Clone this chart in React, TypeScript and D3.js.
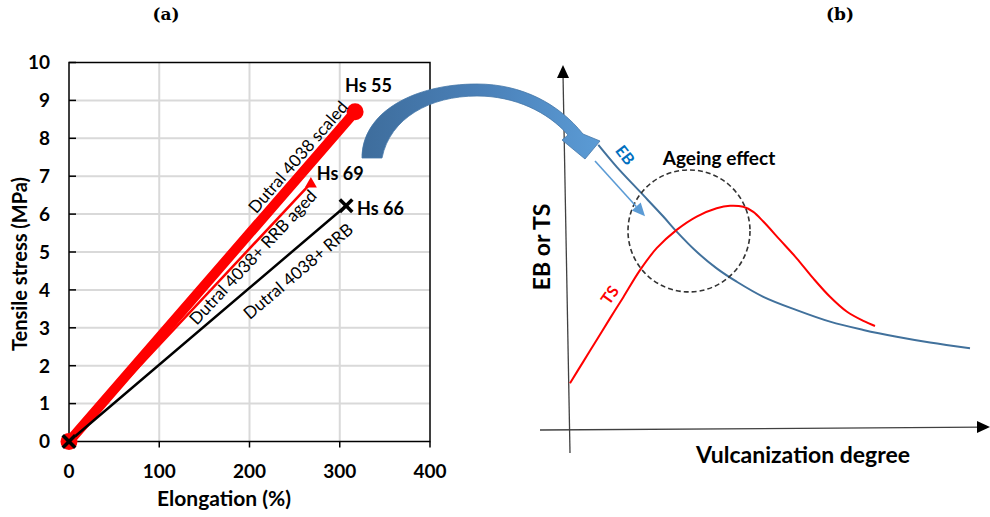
import React from "react";
import * as d3 from "d3";

// ---- (a) tensile curves: elongation (%) vs tensile stress (MPa)
const seriesNames = ["Dutral 4038 scaled", "Dutral 4038+ RRB aged", "Dutral 4038+ RRB"];
const elongScaled = [0, 317];
const stressScaled = [0, 8.7];
const elongAged = [0, 268];
const stressAged = [0, 6.82];
const elongRRB = [0, 307];
const stressRRB = [0, 6.22];
const hardnessLabels = ["Hs 55", "Hs 69", "Hs 66"];
const xTicks = [0, 100, 200, 300, 400];
const yTicks = [0, 1, 2, 3, 4, 5, 6, 7, 8, 9, 10];

// ---- (b) schematic: property vs vulcanization degree (arbitrary units 0–100)
const vulcDegreeEB = [7.08, 11.67, 17.5, 23.33, 26.67, 31.67, 36.67, 41.67, 48.33, 56.67, 65, 73.33, 81.67, 90, 100];
const ebValues = [79.2, 73.1, 66.2, 59.3, 55.1, 49.5, 44.9, 41.2, 37.0, 33.3, 30.1, 27.8, 25.9, 24.3, 22.7];
const vulcDegreeTS = [0, 3.33, 6.67, 10, 13.33, 17.5, 21.67, 26.67, 31.67, 36.67, 40, 43.33, 45.83, 48.33, 52.5, 56.67, 60.83, 65, 69.17, 73.33, 76.25];
const tsValues = [13.0, 19.0, 25.0, 31.0, 36.9, 44.4, 50.5, 55.6, 59.3, 61.6, 62.3, 62.0, 60.6, 57.9, 52.8, 47.7, 42.1, 37.0, 32.9, 30.3, 28.9];
const ageingCenter = [29.75, 55.3];
const ageingRadius = 15.25;

const FONT = "Lato, 'Open Sans', sans-serif";

export default function App() {
  const W = 990;
  const H = 517;

  // panel (a) scales
  const x = d3.scaleLinear().domain([0, 400]).range([69, 430]);
  const y = d3.scaleLinear().domain([0, 10]).range([441.5, 62.5]);

  // panel (b) scales
  const bx = d3.scaleLinear().domain([0, 100]).range([570, 970]);
  const by = d3.scaleLinear().domain([0, 100]).range([430, 70]);

  const lineA = d3
    .line<[number, number]>()
    .x((d) => x(d[0]))
    .y((d) => y(d[1]));

  const series = [
    { name: seriesNames[0], xs: elongScaled, ys: stressScaled, color: "#FF0000", width: 10, label: hardnessLabels[0], ldx: -10, ldy: -20, t: 0.836, off: 13.4 },
    { name: seriesNames[1], xs: elongAged, ys: stressAged, color: "#FF0000", width: 2.5, label: hardnessLabels[1], ldx: 6, ldy: -3, t: 0.735, off: -8.5 },
    { name: seriesNames[2], xs: elongRRB, ys: stressRRB, color: "#000000", width: 2.5, label: hardnessLabels[2], ldx: 11, ldy: 9, t: 0.783, off: -19 },
  ].map((s) => ({ ...s, pts: s.xs.map((v, i) => [v, s.ys[i]] as [number, number]) }));

  const curveB = (xs: number[], ys: number[]) =>
    d3
      .line<number>()
      .x((_, i) => bx(xs[i]))
      .y((d) => by(d))
      .curve(d3.curveCatmullRom.alpha(0.5))(ys) as string;

  const marker = (idx: number, px: number, py: number, key: string) => {
    if (idx === 0) return <circle key={key} cx={px} cy={py} r={8.5} fill="#FF0000" />;
    if (idx === 1)
      return (
        <path
          key={key}
          d={`M${px},${py - 6}L${px + 6},${py + 4.5}L${px - 6},${py + 4.5}Z`}
          fill="#FF0000"
        />
      );
    const s = 5;
    return (
      <g key={key} stroke="#000" strokeWidth={3.5} strokeLinecap="square">
        <line x1={px - s} y1={py - s} x2={px + s} y2={py + s} />
        <line x1={px - s} y1={py + s} x2={px + s} y2={py - s} />
      </g>
    );
  };

  // small arrow in schematic
  const sa0 = [bx(6.25), by(74.7)];
  const sa1 = [bx(18.75), by(59.4)];
  const ang = Math.atan2(sa1[1] - sa0[1], sa1[0] - sa0[0]);
  const ahL = 13;
  const ahW = 6;
  const ahBase = [sa1[0] - ahL * Math.cos(ang), sa1[1] - ahL * Math.sin(ang)];
  const ahP1 = [ahBase[0] + ahW * Math.sin(ang), ahBase[1] - ahW * Math.cos(ang)];
  const ahP2 = [ahBase[0] - ahW * Math.sin(ang), ahBase[1] + ahW * Math.cos(ang)];

  // curved connector arrow from panel (a) to the EB curve
  const bigArrow =
    "M362,158 C362,112 414,84 477,84 C522,84 559,104 583,134 L600,141 L585,159 L562,140 L568,135 C548,112 515,96 477,96 C430,96 390,118 382,158 Z";

  return (
    <svg
      width={W}
      height={H}
      viewBox={`0 0 ${W} ${H}`}
      style={{ position: "absolute", left: 0, top: 0, background: "#fff" }}
      fontFamily={FONT}
    >
      <defs>
        <linearGradient id="arrowGrad" x1="0" x2="1" y1="0" y2="0">
          <stop offset="0" stopColor="#3E6D9C" />
          <stop offset="0.5" stopColor="#4A80B8" />
          <stop offset="1" stopColor="#5B9BD5" />
        </linearGradient>
      </defs>

      {/* panel titles */}
      <text x={166} y={20} textAnchor="middle" fontFamily="'DejaVu Serif', 'Liberation Serif', serif" fontWeight="bold" fontSize={17}>
        (a)
      </text>
      <text x={840} y={20} textAnchor="middle" fontFamily="'DejaVu Serif', 'Liberation Serif', serif" fontWeight="bold" fontSize={17}>
        (b)
      </text>

      {/* ---- panel (a) ---- */}
      <g>
        {xTicks.slice(1, -1).map((t) => (
          <line key={"gx" + t} x1={x(t)} x2={x(t)} y1={y(0)} y2={y(10)} stroke="#D9D9D9" strokeWidth={2} />
        ))}
        {yTicks.slice(1, -1).map((t) => (
          <line key={"gy" + t} x1={x(0)} x2={x(400)} y1={y(t)} y2={y(t)} stroke="#D9D9D9" strokeWidth={2} />
        ))}
        <rect x={x(0)} y={y(10)} width={x(400) - x(0)} height={y(0) - y(10)} fill="none" stroke="#000" strokeWidth={1.5} />
        {yTicks.map((t) => (
          <line key={"ty" + t} x1={x(0)} x2={x(0) + 7} y1={y(t)} y2={y(t)} stroke="#000" strokeWidth={1.5} />
        ))}
        {xTicks.map((t) => (
          <line key={"tx" + t} x1={x(t)} x2={x(t)} y1={y(0)} y2={y(0) + 6} stroke="#000" strokeWidth={1.5} />
        ))}
        {yTicks.map((t) => (
          <text key={"ly" + t} x={50} y={y(t)} dy="0.36em" textAnchor="end" fontWeight="bold" fontSize={19} fill="#000">
            {t}
          </text>
        ))}
        {xTicks.map((t) => (
          <text key={"lx" + t} x={x(t)} y={478} textAnchor="middle" fontWeight="bold" fontSize={19} fill="#000">
            {t}
          </text>
        ))}
        <text x={224} y={506} textAnchor="middle" fontWeight="bold" fontSize={21} fill="#000">
          Elongation (%)
        </text>
        <text transform="translate(27,264) rotate(-90)" textAnchor="middle" fontWeight="bold" fontSize={20} fill="#000">
          Tensile stress (MPa)
        </text>

        {series.map((s) => (
          <path key={"l" + s.name} d={lineA(s.pts) as string} stroke={s.color} strokeWidth={s.width} fill="none" strokeLinecap="round" />
        ))}
        {series.map((s, i) => s.pts.map((p, j) => marker(i, x(p[0]), y(p[1]), `m${i}-${j}`)))}

        {series.map((s) => {
          const p0 = [x(s.pts[0][0]), y(s.pts[0][1])];
          const p1 = [x(s.pts[1][0]), y(s.pts[1][1])];
          const a = Math.atan2(p1[1] - p0[1], p1[0] - p0[0]);
          const cx = p0[0] + (p1[0] - p0[0]) * s.t + s.off * Math.sin(a);
          const cy = p0[1] + (p1[1] - p0[1]) * s.t - s.off * Math.cos(a);
          return (
            <text
              key={"n" + s.name}
              transform={`translate(${cx},${cy}) rotate(${(a * 180) / Math.PI})`}
              textAnchor="middle"
              dy="0.35em"
              fontSize={17}
              fill="#000"
            >
              {s.name}
            </text>
          );
        })}
        {series.map((s) => {
          const e = s.pts[s.pts.length - 1];
          return (
            <text key={"h" + s.name} x={x(e[0]) + s.ldx} y={y(e[1]) + s.ldy} fontWeight="bold" fontSize={18} fill="#000">
              {s.label}
            </text>
          );
        })}
      </g>

      {/* ---- panel (b) ---- */}
      <g>
        <line x1={bx(-1.75)} y1={74} x2={bx(0)} y2={453} stroke="#404040" strokeWidth={1.3} />
        <path d={`M${bx(-1.75)},65 L${bx(-1.75) + 6},78 L${bx(-1.75) - 6},78 Z`} fill="#000" />
        <line x1={540} y1={by(0)} x2={982} y2={by(0.8)} stroke="#404040" strokeWidth={1.3} />
        <path d={`M990,${by(0.8)} L977,${by(0.8) - 6} L977,${by(0.8) + 6} Z`} fill="#000" />

        <text x={803} y={463} textAnchor="middle" fontWeight="bold" fontSize={23} fill="#000">
          Vulcanization degree
        </text>
        <text transform="translate(550,247) rotate(-90)" textAnchor="middle" fontWeight="bold" fontSize={23} fill="#000">
          EB or TS
        </text>

        <path d={curveB(vulcDegreeEB, ebValues)} stroke="#41719C" strokeWidth={2} fill="none" />
        <path d={curveB(vulcDegreeTS, tsValues)} stroke="#FF0000" strokeWidth={2} fill="none" />

        <circle
          cx={bx(ageingCenter[0])}
          cy={by(ageingCenter[1])}
          r={bx(ageingRadius) - bx(0)}
          fill="none"
          stroke="#333"
          strokeWidth={1.6}
          strokeDasharray="5,3"
        />
        <text x={719} y={165} textAnchor="middle" fontWeight="bold" fontSize={19} fill="#000">
          Ageing effect
        </text>

        <text transform="translate(625,155) rotate(52)" textAnchor="middle" dy="0.35em" fontWeight="bold" fontSize={16} fill="#0070C0">
          EB
        </text>
        <text transform="translate(610,295) rotate(-55)" textAnchor="middle" dy="0.35em" fontWeight="bold" fontSize={16} fill="#FF0000">
          TS
        </text>

        <line x1={sa0[0]} y1={sa0[1]} x2={ahBase[0]} y2={ahBase[1]} stroke="#5B9BD5" strokeWidth={1.6} />
        <path d={`M${sa1[0]},${sa1[1]} L${ahP1[0]},${ahP1[1]} L${ahP2[0]},${ahP2[1]} Z`} fill="#5B9BD5" />
      </g>

      {/* connector arrow */}
      <path d={bigArrow} fill="url(#arrowGrad)" stroke="#4577A8" strokeWidth={0.8} />
    </svg>
  );
}
